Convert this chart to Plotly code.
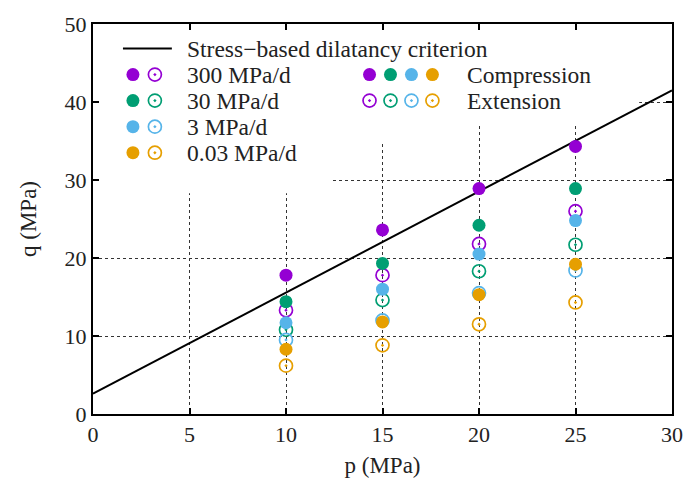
import plotly.graph_objects as go

# ---------------- data ----------------
p_vals = [10, 15, 20, 25]

rates = ["300 MPa/d", "30 MPa/d", "3 MPa/d", "0.03 MPa/d"]
colors = ["#9400D3", "#009E73", "#56B4E9", "#E69F00"]

q_comp_300 = [17.8, 23.6, 28.9, 34.3]
q_comp_30 = [14.4, 19.3, 24.2, 28.9]
q_comp_3 = [11.7, 16.0, 20.5, 24.8]
q_comp_003 = [8.3, 11.8, 15.3, 19.2]

q_ext_300 = [13.3, 17.8, 21.8, 26.0]
q_ext_30 = [10.8, 14.6, 18.3, 21.7]
q_ext_3 = [9.5, 12.0, 15.5, 18.4]
q_ext_003 = [6.2, 8.8, 11.5, 14.3]

crit_p = [0, 30]
crit_q = [2.6, 41.5]

x_ticks = [0, 5, 10, 15, 20, 25, 30]
y_ticks = [0, 10, 20, 30, 40, 50]

q_comp = [q_comp_300, q_comp_30, q_comp_3, q_comp_003]
q_ext = [q_ext_300, q_ext_30, q_ext_3, q_ext_003]

FONT = "Liberation Serif"
MS = 13

fig = go.Figure()

# criterion line
fig.add_trace(go.Scatter(x=crit_p, y=crit_q, mode="lines",
                         line=dict(color="black", width=2), showlegend=False))

# extension (open dotted circles) first, compression on top
for qs, c in zip(q_ext, colors):
    fig.add_trace(go.Scatter(x=p_vals, y=qs, mode="markers", showlegend=False,
                             marker=dict(symbol="circle-open-dot", size=MS,
                                         color=c, line=dict(width=1.7, color=c))))
for qs, c in zip(q_comp, colors):
    fig.add_trace(go.Scatter(x=p_vals, y=qs, mode="markers", showlegend=False,
                             marker=dict(symbol="circle", size=MS, color=c)))

# ---------------- legend drawn on overlay axis (pixel-like coordinates) ----------------
def leg_marker(x, y, c, open_=False):
    if open_:
        m = dict(symbol="circle-open-dot", size=MS, color=c, line=dict(width=1.7, color=c))
    else:
        m = dict(symbol="circle", size=MS, color=c)
    fig.add_trace(go.Scatter(x=[x], y=[y], mode="markers", marker=m, showlegend=False,
                             xaxis="x2", yaxis="y2", hoverinfo="skip"))

fig.add_trace(go.Scatter(x=[123, 172], y=[42, 42], mode="lines", line=dict(color="black", width=2),
                         showlegend=False, xaxis="x2", yaxis="y2", hoverinfo="skip"))
annots = [dict(x=185, y=42, text="Stress\u2212based dilatancy criterion")]
row_y = [68.5, 95, 121.5, 148]
for r, c, y in zip(rates, colors, row_y):
    leg_marker(133, y, c)
    leg_marker(155, y, c, True)
    annots.append(dict(x=185, y=y, text=r))
for c, x in zip(colors, [370, 391, 412, 433]):
    leg_marker(x, 68.5, c)
    leg_marker(x, 95, c, True)
annots.append(dict(x=466, y=68.5, text="Compression"))
annots.append(dict(x=466, y=95, text="Extension"))
for a in annots:
    a.update(xref="x2", yref="y2", xanchor="left", yanchor="middle", showarrow=False,
             font=dict(family=FONT, size=23.5, color="#222"))
fig.update_layout(annotations=annots)

# white masks hiding grid behind the key
masks = [(0, 28.3, 12.3, 50), (12.3, 34.6, 17.5, 50), (17.5, 37.0, 28.3, 50)]
for x0, y0, x1, y1 in masks:
    fig.add_shape(type="rect", x0=x0, x1=x1, y0=y0, y1=y1, xref="x", yref="y",
                  fillcolor="white", line=dict(width=0), layer="between")

axis_common = dict(showline=True, linecolor="black", linewidth=2, mirror="ticks",
                   ticks="inside", ticklen=6, tickwidth=1.5, tickcolor="black",
                   showgrid=True, gridcolor="#333", griddash="dot", gridwidth=1.3,
                   zeroline=False,
                   tickfont=dict(family=FONT, size=22, color="#222"))

fig.update_layout(
    width=695, height=491,
    margin=dict(l=93, r=22, t=17, b=77),
    paper_bgcolor="white", plot_bgcolor="white",
    xaxis=dict(range=[0, 30], tickvals=x_ticks,
               title=dict(text="p (MPa)", font=dict(family=FONT, size=23, color="#222"), standoff=10),
               **axis_common),
    yaxis=dict(range=[0, 50], tickvals=y_ticks,
               title=dict(text="q (MPa)", font=dict(family=FONT, size=23, color="#222"), standoff=22),
               **axis_common),
    xaxis2=dict(range=[93, 673], overlaying="x", visible=False, fixedrange=True),
    yaxis2=dict(range=[414, 17], overlaying="y", visible=False, fixedrange=True),
    showlegend=False,
)

fig.write_html("out.html")
